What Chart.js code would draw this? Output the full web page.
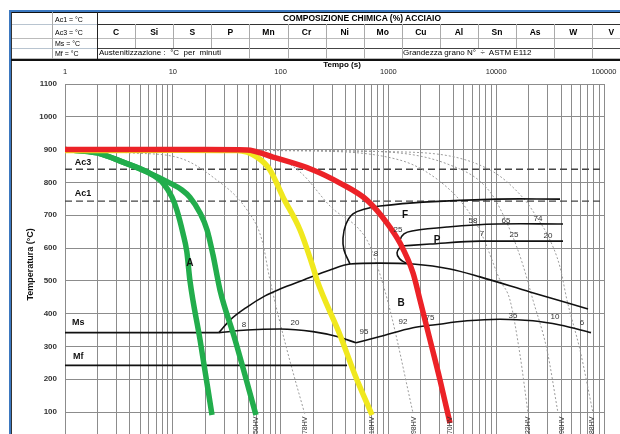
<!DOCTYPE html>
<html><head><meta charset="utf-8">
<script src="https://cdn.jsdelivr.net/npm/chart.js@4/dist/chart.umd.min.js"></script>
<style>
html,body{margin:0;padding:0;width:620px;height:434px;overflow:hidden;background:#fff;font-family:"Liberation Sans",Arial,sans-serif;}
#wrap{position:relative;width:620px;height:434px;overflow:hidden;background:#fff;}
.t{position:absolute;white-space:pre;color:#000;line-height:1;}
.l{position:absolute;}
canvas{position:absolute;left:0;top:61px;}
</style></head><body><div id="wrap">
<canvas id="c" width="620" height="420"></canvas>
</div>
<script>
// ---------- DATA ----------
const timeTicks = [1, 10, 100, 1000, 10000, 100000];
const tempTicks = [100, 200, 300, 400, 500, 600, 700, 800, 900, 1000, 1100];
const elements = ['C','Si','S','P','Mn','Cr','Ni','Mo','Cu','Al','Sn','As','W','V'];
const headLabels = ['Ac1 = °C','Ac3 = °C','Ms = °C','Mf = °C'];

const Ac3 = 840, Ac1 = 743, Ms = 342, Mf = 242;

// thick cooling curves (time s, temperature °C)
const greenFastTime = [1, 1.98, 3.45, 5.77, 8.11, 9.83, 10.9, 12.4, 13.5, 14.4, 17.9, 23.1];
const greenFastTemp = [900, 890, 862, 832, 798, 755, 716, 646, 588, 502, 320, 91];
const greenSlowTime = [1, 1.98, 3.45, 5.77, 9.42, 12.17, 14.4, 17.9, 20.8, 23.6, 27.4, 37.8, 59.1];
const greenSlowTemp = [900, 890, 862, 832, 798, 777, 755, 707, 655, 579, 472, 320, 91];
const yellowTime = [1, 11.7, 39.4, 60.4, 79.7, 105.3, 151.4, 199.8, 217.6, 355.6, 490, 704.6];
const yellowTemp = [897, 898, 897, 877, 838, 755, 655, 542, 502, 335, 213, 91];
const redTime = [1, 20, 48.8, 85, 199.8, 355.6, 633, 970.5, 1281, 1691, 1964, 2432, 3010, 3727];
const redTemp = [900, 900, 899, 877, 838, 798, 746, 676, 615, 524, 441, 320, 198, 66];

// thin dotted cooling curves
const dot1Time = [1, 4.01, 11.66, 23.6, 48.8, 67.2, 79.7, 114.7, 168.4];
const dot1Temp = [900, 890, 874, 816, 716, 624, 502, 289, 91];
const dot2Time = [1, 33.9, 79.7, 151.4, 287.2, 633, 783, 1035, 1691];
const dot2Temp = [900, 896, 884, 832, 728, 624, 548, 411, 97];
const dot3Time = [1, 151.4, 1281, 3727, 6093, 7384, 10846, 13430, 16630, 19720];
const dot3Temp = [900, 896, 868, 777, 691, 640, 502, 441, 274, 97];
const dot4Time = [1, 440.5, 3727, 8761, 13430, 17350, 21950, 29600, 37440];
const dot4Temp = [900, 896, 853, 771, 655, 557, 441, 289, 97];
const dot5Time = [1, 1281, 8761, 18500, 24430, 30230, 39070, 45370, 59890, 79070];
const dot5Temp = [900, 893, 838, 746, 688, 637, 542, 441, 289, 97];

// transformation lines
const msLineTime = [1, 26.8];
const mfLineTime = [1, 413];
const bStartTime = [26.8, 33.9, 48.8, 71.7, 98.7, 161.4, 287.2, 440.5, 835.6, 1691, 3727, 7074, 20580, 71070];
const bStartTemp = [342, 380, 420, 454, 475, 502, 533, 551, 554, 551, 536, 512, 466, 414];
const bEndLeftTime = [26.8, 48.8, 98.7, 199.8, 333.6, 500.6];
const bEndLeftTemp = [342, 350, 353, 345, 330, 311];
const bEndRightTime = [500.6, 835.6, 1691, 2593, 5358, 10846, 21950, 39070, 75770];
const bEndRightTemp = [311, 330, 357, 365, 378, 383, 378, 365, 342];
const fStartTime = [440.5, 387.3, 379.2, 404.3, 469.5, 606.7, 835.6, 2094, 10170, 39070];
const fStartTemp = [551, 594, 630, 673, 704, 719, 728, 740, 749, 749];
const pStartTime = [1309, 1281, 1395, 1656, 3497, 10170, 41660];
const pStartTemp = [606, 624, 643, 652, 664, 673, 673];
const pEndTime = [1309, 2432, 7074, 41660];
const pEndTemp = [606, 612, 621, 621];
const pNoseTime = [1309, 1202, 1281, 1457];
const pNoseTemp = [606, 585, 566, 554];

// text annotations (time, temperature)
const regionText = ['A', 'F', 'P', 'B'];
const regionTime = [14.4, 1426, 2823, 1309];
const regionTemp = [554, 700, 624, 432];
const lineText = ['Ac3', 'Ac1', 'Ms', 'Mf'];
const lineTime = [1.47, 1.47, 1.33, 1.33];
const lineTemp = [862, 766, 372, 270];
const numText = ['8','20','95','92','75','35','10','6','8','25','58','65','74','7','25','20'];
const numTime = [45.8, 136, 594, 1366, 2432, 14320, 35120, 62520, 767, 1228, 6093, 12330, 24430, 7384, 14630, 30230];
const numTemp = [367, 372, 344, 374, 387, 393, 390, 372, 582, 655, 682, 682, 688, 643, 640, 637];
const hvText = ['450HV','378HV','318HV','298HV','270HV','222HV','198HV','188HV'];
const hvTime = [59.1, 168.4, 704.6, 1728, 3727, 19720, 40780, 77390];
const hvTemp = [86, 86, 86, 86, 86, 86, 86, 86];

// ---------- HEADER TABLE ----------
const wrap = document.getElementById('wrap');
function L(x, y, w, h, c) { const d = document.createElement('div'); d.className = 'l'; d.style.cssText = `left:${x}px;top:${y}px;width:${w}px;height:${h}px;background:${c};`; wrap.appendChild(d); }
function T(txt, x, y, size, bold, anchor) {
  const d = document.createElement('div'); d.className = 't'; d.textContent = txt;
  d.style.left = x + 'px'; d.style.top = y + 'px'; d.style.fontSize = size + 'px';
  if (bold) d.style.fontWeight = 'bold';
  d.style.transform = anchor === 'c' ? 'translate(-50%,-50%)' : 'translate(0,-50%)';
  wrap.appendChild(d);
}
L(0, 0, 620, 60, '#fff');
L(10, 10, 610, 2, '#3b78c0');
L(9, 10, 2, 424, '#3b78c0');
L(11, 12, 609, 1, '#111');
L(11, 12, 1, 422, '#333');
L(12, 24, 85, 1, '#b8c4d0');
L(97, 24, 523, 1, '#333');
L(12, 38, 608, 1, '#bbb');
L(12, 48, 85, 1, '#b8c4d0');
L(97, 48, 523, 1, '#444');
L(12, 58, 608, 1, '#bbb');
L(11, 59, 609, 2, '#111');
L(52, 12, 1, 47, '#aaa');
L(97, 12, 1, 47, '#222');
const colW = 38.1;
for (let i = 1; i < elements.length; i++) L(97 + colW * i, 24, 1, 24, '#aaa');
[4, 5, 6, 7, 8, 12, 13].forEach(i => L(97 + colW * i, 48, 1, 11, '#aaa'));
headLabels.forEach((s, i) => T(s, 55, [19, 32, 43, 53][i], 7, false, 'l'));
T('COMPOSIZIONE CHIMICA (%) ACCIAIO', 362, 18, 8.5, true, 'c');
elements.forEach((s, i) => T(s, 97 + colW * (i + 0.5), 32, 8.5, true, 'c'));
T('Austenitizzazione :  °C  per  minuti', 99, 53, 8, false, 'l');
T('Grandezza grano N°  ÷  ASTM E112', 403, 53, 8, false, 'l');
T('Tempo (s)', 342, 65, 8, true, 'c');

// ---------- CHART ----------
const pts = (ts, vs) => ts.map((t, i) => ({ x: t, y: vs[i] }));
const flat = (ts, v) => ts.map(t => ({ x: t, y: v }));
const base = { pointRadius: 0, fill: false, borderCapStyle: 'butt', borderJoinStyle: 'round' };
const thick = (d, c, o) => Object.assign({}, base, { data: d, borderColor: c, borderWidth: 5.5, cubicInterpolationMode: 'monotone', order: o });
const blk = (d, o) => Object.assign({}, base, { data: d, borderColor: '#111', borderWidth: 1.6, order: 4 }, o || {});
const dot = d => Object.assign({}, base, { data: d, borderColor: '#9c9c9c', borderWidth: 1, borderDash: [2, 2], cubicInterpolationMode: 'monotone', order: 5 });

const datasets = [
  thick(pts(redTime, redTemp), '#ec2227', 1),
  thick(pts(yellowTime, yellowTemp), '#f0e81e', 2),
  thick(pts(greenSlowTime, greenSlowTemp), '#22ad4c', 3),
  thick(pts(greenFastTime, greenFastTemp), '#22ad4c', 3),
  blk(flat(msLineTime, Ms)),
  blk(flat(mfLineTime, Mf)),
  blk(pts(bStartTime, bStartTemp), { cubicInterpolationMode: 'monotone' }),
  blk(pts(bEndLeftTime, bEndLeftTemp), { cubicInterpolationMode: 'monotone' }),
  blk(pts(bEndRightTime, bEndRightTemp), { cubicInterpolationMode: 'monotone' }),
  blk(pts(fStartTime, fStartTemp), { tension: 0.4 }),
  blk(pts(pStartTime, pStartTemp), { tension: 0.4 }),
  blk(pts(pEndTime, pEndTemp), { cubicInterpolationMode: 'monotone' }),
  blk(pts(pNoseTime, pNoseTemp), { tension: 0.5 }),
  dot(pts(dot1Time, dot1Temp)),
  dot(pts(dot2Time, dot2Temp)),
  dot(pts(dot3Time, dot3Temp)),
  dot(pts(dot4Time, dot4Temp)),
  dot(pts(dot5Time, dot5Temp)),
  Object.assign({}, base, { data: flat([1, 100000], Ac3), borderColor: '#444', borderWidth: 1.4, borderDash: [7, 4], order: 6 }),
  Object.assign({}, base, { data: flat([1, 100000], Ac1), borderColor: '#444', borderWidth: 1.4, borderDash: [7, 4], order: 6 })
];

const textPlugin = {
  id: 'texts',
  afterDatasetsDraw(chart) {
    const { ctx, scales: { x, y } } = chart;
    ctx.save();
    ctx.fillStyle = '#111';
    ctx.textAlign = 'center'; ctx.textBaseline = 'middle';
    ctx.font = 'bold 10px "Liberation Sans", Arial, sans-serif';
    regionText.forEach((s, i) => ctx.fillText(s, x.getPixelForValue(regionTime[i]), y.getPixelForValue(regionTemp[i])));
    ctx.font = 'bold 9px "Liberation Sans", Arial, sans-serif';
    lineText.forEach((s, i) => ctx.fillText(s, x.getPixelForValue(lineTime[i]), y.getPixelForValue(lineTemp[i])));
    ctx.font = '8px "Liberation Sans", Arial, sans-serif';
    ctx.fillStyle = '#333';
    numText.forEach((s, i) => ctx.fillText(s, x.getPixelForValue(numTime[i]), y.getPixelForValue(numTemp[i])));
    ctx.font = '7px "Liberation Sans", Arial, sans-serif';
    ctx.textAlign = 'right';
    hvText.forEach((s, i) => {
      ctx.save();
      ctx.translate(x.getPixelForValue(hvTime[i]), y.getPixelForValue(hvTemp[i]));
      ctx.rotate(-Math.PI / 2);
      ctx.fillText(s, 0, 0);
      ctx.restore();
    });
    ctx.restore();
  }
};

const allTimeTicks = [];
for (let e = 0; e < 5; e++) for (let m = 1; m < 10; m++) allTimeTicks.push(m * Math.pow(10, e));
allTimeTicks.push(100000);

new Chart(document.getElementById('c'), {
  type: 'line',
  data: { datasets },
  plugins: [textPlugin],
  options: {
    responsive: false, animation: false,
    layout: { padding: { left: 21, right: 16, top: 0, bottom: 36.2 } },
    plugins: { legend: { display: false }, tooltip: { enabled: false } },
    scales: {
      x: {
        type: 'logarithmic', position: 'top', min: 1, max: 100000,
        afterBuildTicks: s => { s.ticks = allTimeTicks.map(v => ({ value: v })); },
        afterFit: s => { s.height = 23; s.paddingLeft = 0; s.paddingRight = 0; },
        grid: { color: '#8c8c8c', lineWidth: 1, drawTicks: false },
        border: { color: '#8c8c8c' },
        ticks: { autoSkip: false, maxRotation: 0, padding: 8, color: '#222',
          font: { size: 7.5, family: '"Liberation Sans", Arial, sans-serif' },
          callback: v => timeTicks.includes(v) ? String(v) : '' }
      },
      y: {
        type: 'linear', min: 0, max: 1100,
        afterBuildTicks: s => { s.ticks = [0].concat(tempTicks).map(v => ({ value: v })); },
        afterFit: s => { s.width = 44; s.paddingTop = 0; s.paddingBottom = 0; },
        grid: { color: '#8c8c8c', lineWidth: 1, drawTicks: false },
        border: { color: '#8c8c8c' },
        ticks: { padding: 8, color: '#333',
          font: { size: 8, weight: 'bold', family: '"Liberation Sans", Arial, sans-serif' },
          callback: v => v === 0 ? '' : String(v) },
        title: { display: true, text: 'Temperatura (°C)', color: '#111',
          font: { size: 9, weight: 'bold', family: '"Liberation Sans", Arial, sans-serif' }, padding: { top: 4, bottom: 4 } }
      }
    }
  }
});
</script>
</body></html>
